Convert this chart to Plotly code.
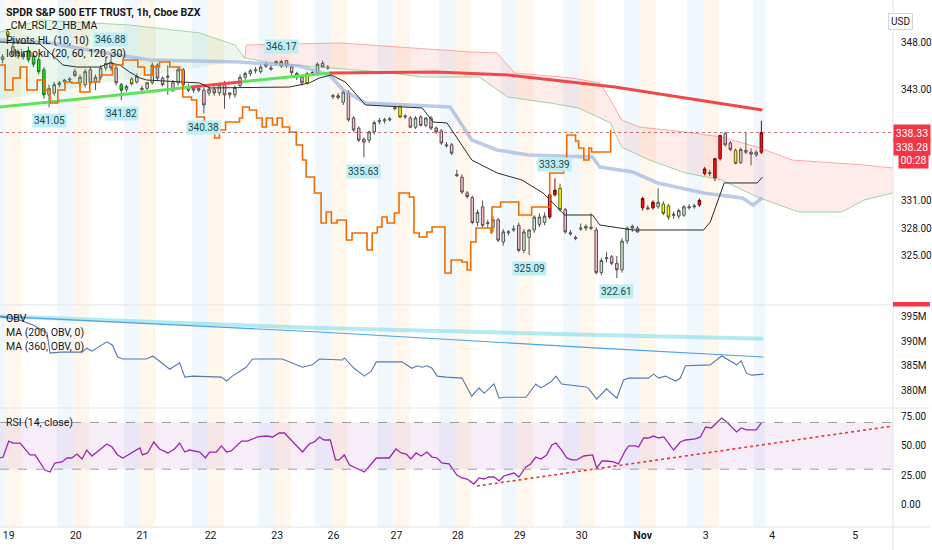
import plotly.graph_objects as go
from plotly.subplots import make_subplots

# SPY 1h bars, x = bar number (0 = first visible bar on 19 Oct)
opens = [346.2, 349.2, 347.6, 346.6, 346.8, 347.2, 346.6, 346.2, 345.1, 342.4,
         342.6, 343.5, 343.8, 344.0, 344.9, 343.7, 343.5, 345.1, 343.8, 344.3,
         345.3, 345.9, 345.3, 343.5, 343.0, 344.1, 343.8, 343.1, 343.1, 343.7,
         345.6, 344.2, 344.3, 343.7, 343.7, 345.1, 343.2, 342.9, 343.1, 342.9,
         342.6, 343.0, 342.6, 343.6, 342.4, 342.4, 343.4, 344.3, 344.7, 345.0,
         344.9, 345.5, 345.3, 345.8, 345.5, 346.1, 345.4, 344.7, 344.3, 343.7,
         344.7, 344.8, 345.8, 345.4, 342.2, 342.3, 341.6, 342.6, 339.9, 338.8,
         337.6, 337.5, 338.4, 339.5, 339.6, 339.7, 340.9, 341.1, 340.0, 339.9,
         338.9, 340.0, 339.1, 339.9, 338.8, 338.5, 337.0, 337.0, 333.8, 333.5,
         331.8, 331.3, 328.6, 330.3, 328.5, 328.1, 328.9, 326.5, 327.5, 327.8,
         328.3, 325.6, 327.0, 327.8, 328.4, 328.6, 329.2, 331.6, 332.3, 330.0,
         327.5, 327.0, 327.9, 328.0, 328.1, 327.8, 323.2, 324.7, 324.9, 324.2,
         323.5, 326.6, 328.0, 328.0, 330.2, 330.2, 330.2, 330.3, 330.6, 330.4,
         329.5, 329.3, 329.4, 330.2, 330.3, 330.5, 333.9, 334.0, 333.4, 335.5,
         338.2, 337.2, 336.4, 335.1, 336.2, 336.2, 335.9, 336.2]
highs = [346.8, 349.4, 348.6, 347.3, 347.1, 347.6, 346.9, 346.5, 345.4, 343.5,
         343.8, 343.9, 344.1, 344.3, 345.2, 344.6, 345.2, 345.4, 344.6, 345.6,
         346.5, 346.88, 345.5, 343.7, 343.5, 344.3, 344.7, 343.4, 343.8, 345.9,
         345.8, 344.4, 345.6, 344.0, 345.4, 345.3, 343.6, 343.3, 343.4, 343.2,
         343.3, 343.3, 343.7, 343.9, 342.7, 343.4, 344.6, 344.9, 345.2, 345.4,
         345.6, 345.9, 345.6, 346.1, 346.17, 346.15, 345.7, 344.9, 344.5, 344.9,
         345.0, 345.9, 346.1, 345.6, 342.5, 342.6, 342.9, 342.9, 340.1, 339.0,
         337.8, 338.5, 339.6, 339.9, 339.9, 340.0, 341.2, 341.3, 340.3, 340.1,
         340.1, 340.2, 340.0, 340.1, 339.0, 338.7, 337.3, 337.2, 334.3, 333.8,
         332.0, 331.5, 330.0, 331.0, 328.9, 329.3, 329.1, 327.9, 327.8, 328.3,
         328.6, 327.9, 327.9, 329.4, 329.6, 329.7, 331.7, 333.39, 332.8, 330.2,
         327.8, 327.2, 328.5, 328.4, 329.6, 328.1, 324.8, 325.4, 325.1, 325.0,
         326.9, 328.2, 328.4, 328.2, 331.4, 330.5, 331.0, 332.3, 330.9, 330.6,
         329.8, 330.1, 330.5, 330.6, 330.6, 331.2, 334.6, 334.3, 335.6, 338.1,
         338.4, 337.4, 336.6, 336.7, 338.3, 336.6, 336.4, 339.6]
lows = [345.8, 348.5, 346.5, 346.3, 346.2, 345.9, 345.4, 344.6, 342.0, 341.05,
        342.3, 343.2, 343.5, 343.7, 344.3, 343.3, 343.2, 343.4, 342.9, 344.0,
        345.0, 345.0, 343.4, 341.82, 342.7, 343.4, 343.6, 342.7, 342.9, 343.5,
        343.9, 343.3, 342.4, 342.7, 343.4, 343.2, 342.7, 342.6, 342.7, 340.38,
        342.3, 342.3, 342.3, 340.9, 342.0, 342.1, 343.2, 344.0, 344.4, 344.7,
        344.7, 345.3, 345.0, 345.6, 345.3, 345.3, 344.5, 344.0, 343.4, 343.5,
        344.5, 344.6, 345.3, 345.1, 341.9, 341.9, 341.3, 339.5, 338.4, 337.3,
        335.63, 337.2, 338.1, 339.2, 339.3, 339.5, 340.7, 339.9, 339.8, 338.8,
        338.7, 339.0, 338.9, 338.6, 338.2, 337.0, 336.7, 335.9, 333.5, 331.7,
        331.2, 328.4, 328.2, 328.1, 328.0, 327.6, 326.5, 326.1, 327.2, 327.6,
        325.4, 325.3, 325.09, 327.5, 328.1, 328.3, 329.0, 331.4, 329.8, 327.4,
        327.2, 326.7, 327.7, 327.7, 327.8, 323.0, 322.9, 324.3, 324.0, 322.61,
        323.2, 326.3, 327.6, 327.5, 329.9, 329.9, 330.0, 330.1, 329.4, 328.9,
        329.0, 329.0, 329.2, 330.0, 330.1, 330.3, 333.7, 333.6, 333.1, 335.3,
        336.8, 336.3, 334.9, 334.9, 336.0, 334.8, 335.7, 336.0]
closes = [346.5, 348.8, 346.7, 347.0, 346.5, 346.2, 345.7, 344.9, 342.4, 343.1,
          343.5, 343.7, 344.0, 344.1, 344.5, 344.3, 344.9, 343.7, 344.3, 345.3,
          345.8, 345.3, 343.7, 342.9, 343.3, 343.6, 344.4, 343.0, 343.7, 345.6,
          344.2, 343.5, 344.4, 342.9, 345.1, 343.5, 342.9, 343.1, 342.9, 341.3,
          343.0, 342.6, 343.5, 342.4, 342.6, 343.2, 344.3, 344.7, 345.0, 345.1,
          345.4, 345.7, 345.2, 346.0, 346.0, 345.6, 344.8, 344.3, 343.7, 344.7,
          344.8, 345.7, 345.4, 345.3, 342.3, 342.1, 342.7, 339.7, 338.6, 337.5,
          337.3, 338.4, 339.4, 339.6, 339.7, 339.8, 341.0, 340.0, 340.1, 338.9,
          339.9, 339.1, 339.9, 338.8, 338.4, 337.2, 336.9, 336.1, 333.7, 331.9,
          331.4, 328.6, 329.7, 328.3, 328.6, 328.9, 326.7, 327.6, 327.6, 327.9,
          325.6, 327.6, 327.8, 329.2, 329.2, 329.3, 331.6, 332.1, 330.0, 327.6,
          327.4, 326.9, 328.0, 328.2, 328.0, 323.2, 324.5, 324.8, 324.2, 323.5,
          326.6, 328.0, 328.2, 327.6, 331.2, 330.1, 330.8, 330.8, 329.6, 329.2,
          329.4, 329.9, 330.3, 330.3, 330.4, 331.0, 334.4, 333.9, 335.5, 338.0,
          337.0, 336.5, 335.0, 336.5, 336.4, 336.0, 336.2, 338.33]
# u/d = plain up/down bar, g/y/r = bar coloured by CM_RSI_2_HB_MA
kinds = ("uydudggggu" "uuuuduuduu" "uddguyuduu" "ddududdudd" "ududuuuuuu"
         "uuduuddgdy" "uuddududdd" "duuuuuuyud" "ududdddddd" "dduduuduuu"
         "duuuuurryd" "dduudduudd" "uuudrdruyy" "duuuurrdrr" "ddyuudur")

# pivot high / low labels
pivot_bars = [21, 9, 23, 39, 54, 70, 107, 102, 119]
pivot_prices = [346.88, 341.05, 341.82, 340.38, 346.17, 335.63, 333.39, 325.09, 322.61]
pivot_high = [True, False, False, False, True, False, True, False, False]

# Pivots HL step line
pivot_line_x = [-0.5, 0.5, 2.0, 3.4, 4.7, 6.7, 8.2, 9.2, 10.7, 12.1, 13.4, 15.0, 16.9, 18.8,
                21.3, 23.3, 26.2, 27.5, 29.1, 30.4, 32.4, 34.3, 34.9, 36.6, 37.6, 39.1, 41.1,
                42.0, 43.2, 45.9, 46.5, 47.8, 49.2, 50.3, 51.1, 52.3, 53.2, 54.2, 55.6, 56.9,
                58.1, 58.8, 60.4, 61.7, 62.7, 63.7, 64.8, 66.6, 67.7, 70.6, 71.6, 72.6, 73.5,
                74.5, 75.9, 76.8, 78.8, 79.7, 80.7, 82.2, 83.2, 85.7, 86.9, 89.0, 90.0, 90.7,
                91.7, 94.6, 94.8, 96.5, 100.0, 102.5, 106.0, 108.7, 109.3, 111.0, 111.6, 112.6,
                113.6, 114.1, 117.8]
pivot_line = [345.62, 342.92, 344.22, 345.40, 342.92, 344.00, 342.92, 341.52, 342.92, 343.78,
              343.68, 342.70, 343.78, 344.54, 345.62, 346.16, 345.40, 344.54, 345.40, 345.94,
              345.40, 345.08, 342.16, 341.84, 340.00, 338.38, 337.74, 338.60, 339.46, 339.90,
              341.08, 340.76, 339.90, 338.92, 339.90, 339.14, 339.90, 338.92, 338.38, 336.98,
              335.36, 333.52, 331.80, 328.56, 329.74, 328.56, 328.88, 326.72, 327.48, 325.64,
              327.48, 328.12, 329.20, 328.56, 329.64, 331.80, 331.36, 327.48, 327.04, 327.58,
              328.12, 323.16, 324.56, 324.34, 323.48, 326.50, 328.02, 327.48, 330.28, 330.82,
              329.42, 330.28, 333.96, 335.36, 338.06, 337.41, 336.66, 335.36, 336.66, 336.22,
              338.60]

# Ichimoku base line (black) and conversion line (light blue)
base_x = [-0.5, 7.2, 8.6, 11.7, 14.4, 18.8, 20.8, 22.7, 24.6, 26.6, 27.9, 38.2, 40.1, 55.6,
          59.4, 61.4, 63.7, 66.4, 70.3, 81.3, 83.4, 86.1, 90.9, 95.8, 100.6, 104.7, 108.9,
          114.3, 115.7, 122.1, 135.8, 137.1, 139.8, 146.2, 147.2]
base_line = [348.10, 347.89, 347.24, 345.62, 345.40, 345.40, 345.84, 345.62, 344.86, 344.22,
             344.00, 343.68, 343.14, 343.24, 343.68, 344.22, 344.54, 343.78, 341.30, 340.98,
             339.46, 339.36, 335.36, 333.96, 333.20, 331.80, 329.42, 329.42, 328.34, 327.80,
             327.80, 328.66, 332.88, 332.88, 333.52]
conv_x = [-0.5, 9.2, 18.8, 28.5, 45.9, 57.5, 63.3, 66.0, 70.3, 86.7, 90.9, 95.8, 101.9,
          114.3, 115.7, 122.1, 126.9, 135.8, 143.3, 145.4, 147.2]
conv_line = [348.32, 348.00, 347.02, 346.16, 345.94, 345.51, 344.54, 342.92, 341.52, 341.08,
             337.52, 336.44, 335.90, 335.68, 334.60, 334.06, 332.88, 331.80, 331.26, 330.50,
             331.26]

# leading spans: bullish cloud (left) and bearish cloud (right)
bull_top_x = [-0.5, 7.2, 24.6, 38.2, 45.0, 46.9]
bull_top = [349.18, 350.48, 349.94, 349.08, 347.78, 346.38]
bull_bot_x = [-0.5, 11.1, 22.7, 34.3, 42.0, 46.9]
bull_bot = [341.84, 342.92, 344.00, 345.08, 345.73, 346.38]
bear_top_x = [46.9, 47.2, 65.2, 90.9, 95.8, 99.2, 110.3, 115.7, 117.8, 119.9, 123.4, 132.3,
              139.3, 146.2, 153.0, 166.9, 172.5]
bear_top = [346.38, 347.78, 348.00, 347.02, 346.92, 344.76, 344.22, 343.68, 341.84, 339.68,
            338.92, 338.38, 337.84, 336.76, 335.36, 334.82, 334.50]
bear_bot_x = [46.9, 53.6, 63.3, 73.7, 81.3, 92.3, 97.9, 106.0, 111.6, 117.8, 119.9, 125.3,
              132.3, 139.3, 146.2, 154.3, 162.6, 166.9, 172.5]
bear_bot = [346.38, 345.73, 345.30, 344.86, 344.32, 344.32, 342.16, 341.52, 340.98, 339.36,
            336.76, 335.36, 333.96, 333.20, 331.36, 329.74, 329.74, 331.04, 331.80]

# long moving average, coloured by slope per segment
ma_x = [-0.5, 18.8, 36.5, 46.5, 57.5, 63.3, 84.0, 97.9, 118.6, 147.2]
ma_line = [341.08, 342.16, 343.25, 343.82, 344.43, 344.76, 344.86, 344.54, 343.24, 340.76]
ma_seg = "ggrggrrrr"

last_price = 338.33
price_ticks = [325, 328, 331, 343, 348]

# OBV panel (millions)
obv_x = [-0.5, 3.4, 5.9, 8.6, 9.2, 11.1, 15.4, 16.3, 17.3, 20.2, 21.3, 22.3, 23.3, 27.9, 29.1,
         32.4, 34.3, 35.3, 36.8, 42.4, 43.4, 44.5, 47.2, 48.4, 54.2, 58.1, 60.0, 61.4, 65.8,
         66.2, 68.1, 70.1, 71.4, 72.4, 77.4, 79.3, 80.3, 81.3, 82.2, 83.2, 84.2, 85.9, 89.0,
         90.9, 92.3, 93.3, 95.2, 96.2, 97.1, 101.4, 103.3, 104.3, 106.2, 107.2, 108.3, 113.0,
         113.6, 115.1, 117.0, 119.0, 120.3, 121.3, 125.1, 126.1, 127.1, 128.4, 130.4, 131.3,
         132.3, 137.1, 137.8, 139.3, 142.2, 143.1, 144.1, 145.1, 147.4]
obv = [395.0, 394.3, 393.3, 391.7, 387.6, 387.8, 387.8, 388.6, 388.0, 389.9, 389.2, 386.8,
       386.4, 386.4, 387.0, 384.3, 385.6, 382.7, 382.9, 382.7, 381.9, 382.9, 384.7, 386.4,
       386.4, 384.7, 385.2, 386.4, 386.2, 386.6, 384.5, 382.9, 383.9, 385.8, 385.8, 384.5,
       385.0, 384.7, 385.0, 384.5, 382.9, 382.7, 382.5, 378.8, 380.5, 379.4, 381.3, 378.4,
       378.6, 378.6, 381.3, 380.5, 381.7, 382.9, 381.3, 380.7, 380.3, 378.2, 380.3, 378.4,
       382.1, 382.5, 382.5, 383.3, 382.5, 382.9, 381.9, 382.5, 385.0, 385.2, 385.8, 387.0,
       385.2, 386.0, 383.5, 383.1, 383.3]
obv_ma200_x = [-0.5, 28.5, 61.4, 115.5, 147.4]
obv_ma200 = [395.1, 393.6, 391.9, 388.6, 386.8]
obv_ma360_x = [-0.5, 61.4, 115.5, 147.4]
obv_ma360 = [395.1, 392.7, 391.3, 390.5]
obv_ticks = [380, 385, 390, 395]

# RSI panel
rsi_x = [-0.5, 0.1, 1.2, 2.0, 3.4, 5.3, 6.3, 8.2, 9.2, 10.1, 11.5, 12.5, 13.4, 14.4, 15.4,
         16.3, 17.3, 20.2, 21.2, 22.3, 23.3, 26.6, 27.1, 28.1, 29.3, 30.4, 32.0, 33.3, 34.3,
         35.3, 36.2, 38.2, 39.3, 40.1, 41.4, 42.4, 43.4, 44.3, 46.3, 47.4, 49.4, 51.1, 52.3,
         53.6, 54.6, 58.1, 59.4, 60.4, 61.4, 62.3, 63.5, 64.5, 65.2, 66.2, 67.2, 70.1, 72.4,
         74.9, 76.2, 77.2, 78.2, 79.1, 80.1, 81.1, 82.2, 83.2, 84.2, 85.1, 86.5, 88.0, 89.0,
         90.0, 91.3, 92.3, 93.3, 94.2, 95.2, 96.2, 97.1, 99.1, 100.0, 101.4, 102.3, 103.3,
         104.3, 105.4, 106.4, 107.2, 108.3, 109.3, 110.3, 111.2, 112.6, 113.6, 114.3, 115.1,
         116.1, 117.0, 118.4, 119.3, 120.7, 121.3, 122.6, 123.2, 124.2, 125.1, 126.1, 127.1,
         128.1, 130.0, 131.3, 132.3, 134.2, 135.2, 136.2, 137.3, 139.3, 140.3, 142.2, 143.1,
         144.1, 146.0, 147.0]
rsi = [39.6, 40.4, 54.1, 52.4, 52.4, 42.2, 42.2, 29.3, 27.6, 35.3, 36.2, 39.6, 39.6, 43.0,
       38.7, 46.4, 41.3, 51.6, 49.0, 42.2, 39.6, 48.2, 42.2, 43.9, 53.3, 47.3, 43.9, 47.3,
       52.4, 44.7, 46.4, 44.7, 39.6, 44.7, 44.7, 49.9, 44.7, 45.6, 54.1, 54.1, 57.6, 58.4,
       57.6, 61.0, 61.0, 44.7, 51.6, 53.3, 57.6, 55.0, 55.0, 37.9, 37.9, 42.2, 33.6, 27.6,
       39.6, 39.6, 47.3, 43.9, 43.0, 38.7, 43.9, 41.3, 44.7, 40.4, 39.6, 35.3, 34.5, 25.0,
       22.5, 21.6, 17.3, 22.5, 21.6, 23.3, 23.3, 19.9, 24.2, 26.7, 23.3, 31.9, 34.5, 40.4,
       38.7, 42.2, 50.7, 52.4, 46.4, 39.6, 37.9, 37.9, 41.3, 42.2, 42.2, 31.0, 37.0, 37.0,
       36.2, 34.5, 46.4, 49.9, 49.9, 49.0, 56.7, 56.7, 58.4, 56.7, 57.6, 46.4, 53.3, 55.0,
       55.9, 57.6, 66.1, 65.3, 73.8, 70.4, 61.9, 65.3, 63.6, 63.6, 69.6]
rsi_trend_x = [91.9, 172.5]
rsi_trend = [15.6, 67.0]
rsi_ticks = [0, 25, 50, 75]

# time axis
day_tick_bars = [1.2, 14.2, 27.1, 40.3, 53.2, 64.1, 76.3, 88.2, 100.2, 112.2, 124.0, 136.2, 149.1, 165.2]
day_tick_text = ["19", "20", "21", "22", "23", "26", "27", "28", "29", "30", "<b>Nov</b>", "3", "4", "5"]
last_bar = len(opens) - 1

FONT = "Roboto, 'Open Sans', sans-serif"
TXT = "#131722"
GRID = "#e0e3eb"
PLOT_W, PLOT_H = 895, 527   # plot area in pixels


def px_y(p):
    return 1 - p / PLOT_H


fig = make_subplots(rows=3, cols=1, shared_xaxes=True, vertical_spacing=0,
                    row_heights=[305, 103, 119])


def add_line(x, y, row, color, width, dash=None, shape="linear", **kw):
    fig.add_trace(go.Scatter(x=x, y=y, mode="lines",
                             line=dict(color=color, width=width, dash=dash, shape=shape),
                             hoverinfo="skip", showlegend=False, **kw), row=row, col=1)


# clouds
add_line(bull_top_x, bull_top, 1, "rgba(129,199,132,0.7)", 1)
add_line(bull_bot_x, bull_bot, 1, "rgba(129,199,132,0.0)", 0.5,
         fill="tonexty", fillcolor="rgba(102,187,106,0.13)")
add_line(bear_top_x, bear_top, 1, "rgba(239,83,80,0.45)", 1)
add_line(bear_bot_x, bear_bot, 1, "rgba(129,199,132,0.75)", 1,
         fill="tonexty", fillcolor="rgba(244,67,54,0.10)")


# candles
def pick(keys):
    idx = [i for i, k in enumerate(kinds) if k in keys]
    return dict(x=idx, open=[opens[i] for i in idx], high=[highs[i] for i in idx],
                low=[lows[i] for i in idx], close=[closes[i] for i in idx])


fig.add_trace(go.Candlestick(**pick("ud"),
                             increasing=dict(fillcolor="#cfe6d0", line=dict(color="#4f5a50", width=1)),
                             decreasing=dict(fillcolor="#f7bdd0", line=dict(color="#5c4b52", width=1)),
                             whiskerwidth=0, hoverinfo="skip", showlegend=False), row=1, col=1)
for key, fill, edge in (("g", "#1fe41f", "#0f6e0f"), ("y", "#ffff14", "#5e5e00"),
                        ("r", "#ee1313", "#7d0000")):
    fig.add_trace(go.Candlestick(**pick(key),
                                 increasing=dict(fillcolor=fill, line=dict(color=edge, width=1)),
                                 decreasing=dict(fillcolor=fill, line=dict(color=edge, width=1)),
                                 whiskerwidth=0, hoverinfo="skip", showlegend=False), row=1, col=1)

# indicator lines over price
add_line(conv_x, conv_line, 1, "rgba(150,175,222,0.65)", 3.5)
start = 0
for i in range(1, len(ma_seg) + 1):
    if i == len(ma_seg) or ma_seg[i] != ma_seg[start]:
        col = "#5ee35a" if ma_seg[start] == "g" else "#f0474a"
        add_line(ma_x[start:i + 1], ma_line[start:i + 1], 1, col, 3)
        start = i
add_line(base_x, base_line, 1, "#2b2b2b", 1)
add_line(pivot_line_x, pivot_line, 1, "#ef6c00", 1.6, shape="hv")

# OBV
add_line(obv_ma360_x, obv_ma360, 2, "rgba(128,222,234,0.6)", 4)
add_line(obv_ma200_x, obv_ma200, 2, "#4ba3e3", 1.2)
add_line(obv_x, obv, 2, "#5577b0", 1.1)

# RSI
add_line(rsi_x, rsi, 3, "#9c27b0", 1.3)
add_line(rsi_trend_x, rsi_trend, 3, "#e53935", 1.6, dash="dot")

# session background stripes
shapes = []
for k, t in enumerate(day_tick_bars):
    if t - 3.6 > last_bar:
        continue
    shapes.append(dict(type="rect", xref="x", yref="paper", x0=t - 3.6, x1=min(t - 0.5, last_bar + 0.7),
                       y0=0, y1=1, fillcolor="rgba(66,165,245,0.08)", line_width=0, layer="below"))
    if t - 0.5 < last_bar:
        shapes.append(dict(type="rect", xref="x", yref="paper", x0=t - 0.5, x1=t + 2.6,
                           y0=0, y1=1, fillcolor="rgba(255,167,38,0.09)", line_width=0, layer="below"))

# RSI band
shapes.append(dict(type="rect", xref="paper", yref="y3", x0=0, x1=1, y0=30, y1=70,
                   fillcolor="rgba(186,104,200,0.12)", line_width=0, layer="below"))
for lvl in (30, 70):
    shapes.append(dict(type="line", xref="paper", yref="y3", x0=0, x1=1, y0=lvl, y1=lvl,
                       line=dict(color="#9e9e9e", width=1, dash="dash")))

# last price line
shapes.append(dict(type="line", xref="paper", yref="y", x0=0, x1=1, y0=last_price, y1=last_price,
                   line=dict(color="rgba(170,80,80,0.75)", width=1, dash="dot")))

# pane separators and price scale border
right_edge = 932 / PLOT_W
for yy in (px_y(305), px_y(408), 0):
    shapes.append(dict(type="line", xref="paper", yref="paper", x0=0, x1=right_edge, y0=yy, y1=yy,
                       line=dict(color=GRID, width=1)))
shapes.append(dict(type="line", xref="paper", yref="paper", x0=1, x1=1, y0=-0.05, y1=1,
                   line=dict(color=GRID, width=1)))
shapes.append(dict(type="rect", xref="paper", yref="paper", x0=1, x1=right_edge,
                   y0=px_y(306.5), y1=px_y(302), fillcolor="#f23645", line_width=0))

annotations = []
legend_rows = [("<b>SPDR S&P 500 ETF TRUST, 1h, Cboe BZX</b>", 12),
               ("_CM_RSI_2_HB_MA", 26), ("Pivots HL (10, 10)", 40),
               ("Ichimoku (20, 60, 120, 30)", 53),
               ("OBV", 318), ("MA (200, OBV, 0)", 332), ("MA (360, OBV, 0)", 346),
               ("RSI (14, close)", 422)]
for text, ypix in legend_rows:
    annotations.append(dict(text=text, xref="paper", yref="paper", x=4 / PLOT_W, y=px_y(ypix),
                            xanchor="left", yanchor="middle", showarrow=False,
                            font=dict(size=10.5, color=TXT)))

for b, p, hi in zip(pivot_bars, pivot_prices, pivot_high):
    annotations.append(dict(text=f"{p:.2f}", x=b, y=p, xref="x", yref="y", showarrow=False,
                            yanchor="bottom" if hi else "top", yshift=6 if hi else -6,
                            bgcolor="#bdeef4", borderpad=1, font=dict(size=10, color="#24474f")))

for text, shift, w in ((f"{last_price:.2f}", 0, 33), ("338.28", -14, 33), ("00:28", -27, 26)):
    annotations.append(dict(text=text, x=1, y=last_price, xref="paper", yref="y", xanchor="left",
                            xshift=0 if w == 33 else 5, yshift=shift, showarrow=False,
                            bgcolor="#f23645", width=w, borderpad=1.5,
                            font=dict(size=10.5, color="white")))

annotations.append(dict(text="USD", x=915 / PLOT_W, y=px_y(13), xref="paper", yref="paper",
                        showarrow=False, bgcolor="white", bordercolor="#d1d4dc", borderwidth=1,
                        borderpad=2, font=dict(size=10, color=TXT)))

fig.update_layout(width=932, height=550, margin=dict(l=0, r=37, t=0, b=23),
                  paper_bgcolor="white", plot_bgcolor="white", showlegend=False,
                  font=dict(family=FONT, size=10, color=TXT),
                  xaxis_rangeslider_visible=False, shapes=shapes, annotations=annotations)

fig.update_xaxes(range=[-0.5, 172.5], showgrid=False, zeroline=False, showline=False)
fig.update_xaxes(tickmode="array", tickvals=day_tick_bars, ticktext=day_tick_text, ticks="",
                 tickfont=dict(size=10.5, color=TXT), row=3, col=1)
fig.update_yaxes(side="right", showgrid=False, zeroline=False, showline=False, ticks="",
                 ticklabelstandoff=7, tickfont=dict(size=10, color=TXT))
fig.update_yaxes(range=[319.7, 352.64], tickvals=price_ticks, tickformat=".2f", row=1, col=1)
fig.update_yaxes(range=[376.4, 397.4], tickvals=obv_ticks,
                 ticktext=[f"{v}M" for v in obv_ticks], row=2, col=1)
fig.update_yaxes(range=[-19.5, 82.4], tickvals=rsi_ticks, tickformat=".2f", row=3, col=1)

# drop the browser's default page margin so the 932x550 figure fills the window
fig.write_html("out.html", config={"displayModeBar": False},
               post_script="document.body.style.margin='0';")
